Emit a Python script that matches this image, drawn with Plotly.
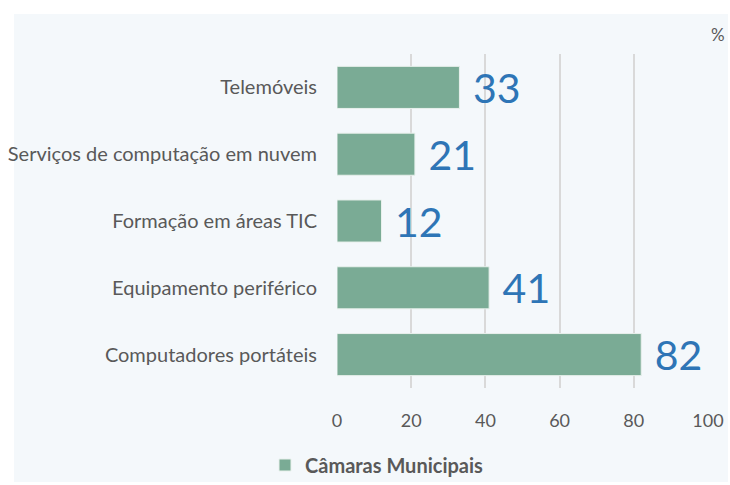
import plotly.graph_objects as go

categories = ["Computadores portáteis", "Equipamento periférico", "Formação em áreas TIC",
              "Serviços de computação em nuvem", "Telemóveis"]
values = [82, 41, 12, 21, 33]
series_name = "Câmaras Municipais"
tick_vals = [0, 20, 40, 60, 80, 100]

W, H = 730, 485
L, R, T, B = 337, 22, 54, 97
pw = W - L - R
ph = H - T - B

def px_x(x):
    return (x - L) / pw

def px_y(y):
    return (H - B - y) / ph

fig = go.Figure()
fig.add_trace(go.Bar(
    y=categories, x=values, orientation="h", name=series_name,
    marker=dict(color="#7aab95", line=dict(color="#e8f0ec", width=1)),
    text=["\u00a0" + str(v) for v in values], textposition="outside",
    textfont=dict(size=41, color="#2e75b6", family="Lato"),
    constraintext="none",
    cliponaxis=False, width=0.63,
))

fig.update_layout(
    width=W, height=H,
    margin=dict(l=L, r=R, t=T, b=B, pad=0, autoexpand=False),
    paper_bgcolor="white", plot_bgcolor="rgba(0,0,0,0)",
    font=dict(family="Lato", color="#595959", size=18),
    showlegend=True,
    legend=dict(orientation="h", x=px_x(265), y=px_y(465), xanchor="left", yanchor="middle",
                font=dict(size=20, color="#595959", family="Lato", weight="bold"),
                bgcolor="rgba(0,0,0,0)"),
    bargap=0.37,
    uniformtext=dict(mode=False),
    shapes=[dict(type="rect", xref="paper", yref="paper", layer="below",
                 x0=px_x(14), x1=px_x(728), y0=px_y(482), y1=px_y(14),
                 fillcolor="#f4f8fb", line=dict(width=0))],
    annotations=[dict(text="%", xref="paper", yref="paper", x=px_x(718), y=px_y(35),
                      xanchor="center", yanchor="middle",
                      showarrow=False, font=dict(size=17, color="#595959"))],
)
fig.update_xaxes(range=[0, 100], tickvals=tick_vals, showgrid=True, gridcolor="#d9d9d9",
                 gridwidth=1.5, zeroline=False, ticks="", ticklabelstandoff=20,
                 tickfont=dict(size=18, color="#595959"), showline=False, automargin=False)
fig.update_yaxes(showgrid=False, ticks="", ticklabelstandoff=19, showline=False,
                 tickfont=dict(size=20, color="#595959"), automargin=False)
fig.write_html("out.html", config={"displayModeBar": False},
               post_script="document.body.style.margin='0';")
